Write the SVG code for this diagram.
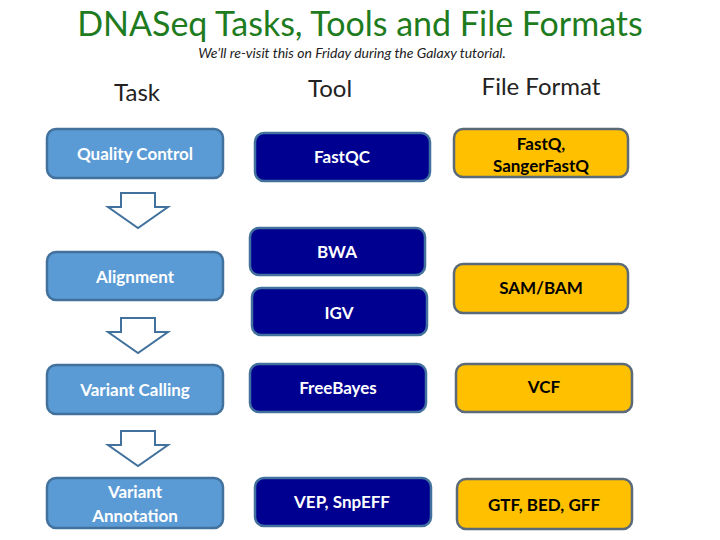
<svg xmlns="http://www.w3.org/2000/svg" width="720" height="540" viewBox="0 0 720 540">
<style>
text{font-family:Lato,"Open Sans",sans-serif;text-anchor:middle}
.task{fill:#5b9bd5;stroke:#41719c;stroke-width:2.5}
.tool{fill:#000090;stroke:#41719c;stroke-width:2.5}
.fmt{fill:#ffc000;stroke:#5a6a78;stroke-width:2.5}
.lw{fill:#fff;font-size:17px;font-weight:bold}
.lk{fill:#000;font-size:17px;font-weight:bold}
.hd{fill:#222;font-size:24px}
.arr{fill:#fff;stroke:#41719c;stroke-width:2}
</style>
<rect width="720" height="540" fill="#fff"/>
<text x="360" y="36" font-size="34" fill="#1e7b1e">DNASeq Tasks, Tools and File Formats</text>
<text x="352" y="58" font-size="14" font-style="italic" fill="#222">We’ll re-visit this on Friday during the Galaxy tutorial.</text>
<text class="hd" x="137" y="101">Task</text>
<text class="hd" x="330" y="97">Tool</text>
<text class="hd" x="541" y="95">File Format</text>
<g id="connectors">
<path class="arr" d="M121 193H155V207H168L138 228L108 207H121Z"/>
<path class="arr" d="M121 318H155V332H168L138 353L108 332H121Z"/>
<path class="arr" d="M121 431H155V445H168L138 466L108 445H121Z"/>
</g>
<g id="qc"><rect class="task" x="47" y="129" width="176" height="49" rx="9"/><text class="lw" x="135" y="160">Quality Control</text></g>
<g id="align"><rect class="task" x="47" y="252" width="176" height="48" rx="9"/><text class="lw" x="135" y="283">Alignment</text></g>
<g id="vc"><rect class="task" x="47" y="365" width="176" height="49" rx="9"/><text class="lw" x="135" y="396">Variant Calling</text></g>
<g id="va"><rect class="task" x="47" y="478" width="176" height="50" rx="9"/><text class="lw" x="135" y="498">Variant</text><text class="lw" x="135" y="522">Annotation</text></g>
<g id="fastqc"><rect class="tool" x="255" y="133" width="175" height="48" rx="9"/><text class="lw" x="342" y="163">FastQC</text></g>
<g id="bwa"><rect class="tool" x="250" y="228" width="175" height="47" rx="9"/><text class="lw" x="337" y="258">BWA</text></g>
<g id="igv"><rect class="tool" x="252" y="288" width="175" height="47" rx="9"/><text class="lw" x="339" y="319">IGV</text></g>
<g id="freebayes"><rect class="tool" x="250" y="364" width="176" height="48" rx="9"/><text class="lw" x="338" y="394">FreeBayes</text></g>
<g id="vep"><rect class="tool" x="255" y="478" width="176" height="48" rx="9"/><text class="lw" x="342" y="508">VEP, SnpEFF</text></g>
<g id="fastq"><rect class="fmt" x="454" y="129" width="174" height="48" rx="9"/><text class="lk" x="541" y="150">FastQ,</text><text class="lk" x="541" y="172">SangerFastQ</text></g>
<g id="sam"><rect class="fmt" x="454" y="264" width="174" height="49" rx="9"/><text class="lk" x="541" y="294">SAM/BAM</text></g>
<g id="vcf"><rect class="fmt" x="456" y="364" width="176" height="48" rx="9"/><text class="lk" x="544" y="393">VCF</text></g>
<g id="gtf"><rect class="fmt" x="457" y="479" width="175" height="50" rx="9"/><text class="lk" x="544" y="511">GTF, BED, GFF</text></g>
</svg>
